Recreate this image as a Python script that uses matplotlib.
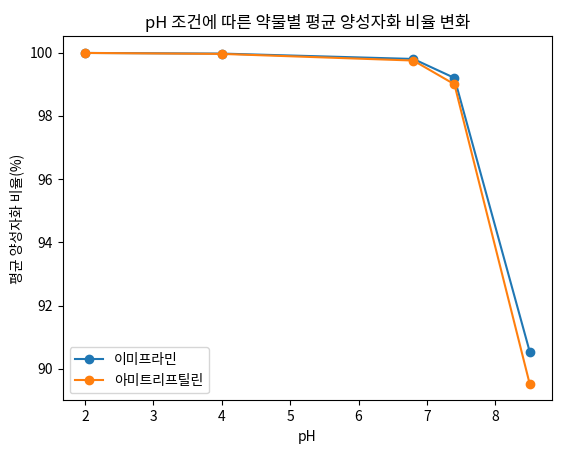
import matplotlib
matplotlib.use("Agg")
import matplotlib.pyplot as plt

plt.rcParams['font.family'] = ['Noto Sans CJK KR', 'DejaVu Sans']
plt.rcParams['axes.unicode_minus'] = False

ph = [2, 4, 6.8, 7.4, 8.5]
imipramine = [99.99, 99.97, 99.80, 99.20, 90.55]
amitriptyline = [99.99, 99.96, 99.75, 99.00, 89.53]

fig, ax = plt.subplots(figsize=(5.69, 4.55), dpi=100)
ax.plot(ph, imipramine, marker='o', label='이미프라민')
ax.plot(ph, amitriptyline, marker='o', label='아미트리프틸린')
ax.set_title('pH 조건에 따른 약물별 평균 양성자화 비율 변화')
ax.set_xlabel('pH')
ax.set_ylabel('평균 양성자화 비율(%)')
ax.legend(loc='lower left')
fig.subplots_adjust(left=0.11, right=0.97, top=0.92, bottom=0.12)
fig.savefig('out.png')
